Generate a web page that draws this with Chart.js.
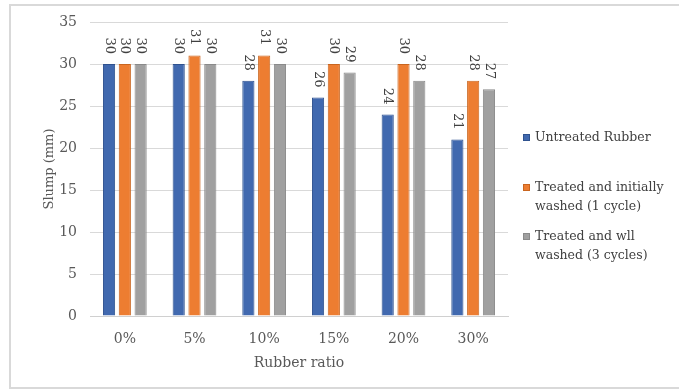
<!DOCTYPE html>
<html>
<head>
<meta charset="utf-8">
<script src="https://cdn.jsdelivr.net/npm/chart.js@4/dist/chart.umd.min.js"></script>
<style>
  html, body { margin: 0; padding: 0; background: #fff; }
  #wrap { position: relative; width: 679px; height: 390px; }
</style>
</head>
<body>
<div id="wrap"><canvas id="c" width="679" height="390"></canvas></div>
<script>
// Slump test results by rubber replacement ratio
const categories = ['0%', '5%', '10%', '15%', '20%', '30%'];
const untreated = [30, 30, 28, 26, 24, 21];
const treatedOnce = [30, 31, 31, 30, 30, 28];
const treatedThrice = [30, 30, 30, 29, 28, 27];
const seriesNames = [
  ['Untreated Rubber'],
  ['Treated and initially', 'washed (1 cycle)'],
  ['Treated and wll', 'washed (3 cycles)']
];
const yTicks = [0, 5, 10, 15, 20, 25, 30, 35];

const FONT = '"DejaVu Serif", "Liberation Serif", serif';
const fills = ['#4169AF', '#ED7D31', '#A0A0A0'];
const edges = ['#2F528F', '#C9651F', '#8A8A8A'];

// Light frame around the whole figure
const framePlugin = {
  id: 'frame',
  beforeDraw(chart) {
    const ctx = chart.ctx;
    ctx.save();
    ctx.strokeStyle = '#D9D9D9';
    ctx.lineWidth = 2;
    ctx.strokeRect(10, 5, 700, 383);
    ctx.restore();
  }
};

// Value labels rotated 90 degrees above each bar
const valueLabels = {
  id: 'valueLabels',
  afterDatasetsDraw(chart) {
    const ctx = chart.ctx;
    ctx.save();
    ctx.font = '13px ' + FONT;
    ctx.fillStyle = '#404040';
    ctx.textAlign = 'right';
    ctx.textBaseline = 'middle';
    chart.data.datasets.forEach((ds, i) => {
      chart.getDatasetMeta(i).data.forEach((bar, j) => {
        ctx.save();
        ctx.translate(bar.x, bar.y - 10);
        ctx.rotate(Math.PI / 2);
        ctx.fillText(String(ds.data[j]), 0, 0);
        ctx.restore();
      });
    });
    ctx.restore();
  }
};

// Vertical legend on the right with wrapped entries
const sideLegend = {
  id: 'sideLegend',
  afterDraw(chart) {
    const ctx = chart.ctx;
    const rows = [138, 188, 237];
    ctx.save();
    ctx.font = '12.5px ' + FONT;
    ctx.textAlign = 'left';
    ctx.textBaseline = 'middle';
    chart.data.datasets.forEach((ds, i) => {
      const y = rows[i];
      ctx.fillStyle = fills[i];
      ctx.fillRect(523, y - 4, 7, 7);
      ctx.strokeStyle = edges[i];
      ctx.lineWidth = 1;
      ctx.strokeRect(523.5, y - 3.5, 6, 6);
      ctx.fillStyle = '#404040';
      seriesNames[i].forEach((line, k) => {
        ctx.fillText(line, 535, y + k * 19);
      });
    });
    ctx.restore();
  }
};

new Chart(document.getElementById('c'), {
  type: 'bar',
  data: {
    labels: categories,
    datasets: [untreated, treatedOnce, treatedThrice].map((d, i) => ({
      label: seriesNames[i].join(' '),
      data: d,
      backgroundColor: fills[i],
      borderColor: edges[i],
      borderWidth: 1,
      categoryPercentage: 0.68,
      barPercentage: 0.77
    }))
  },
  options: {
    responsive: false,
    animation: false,
    layout: { padding: { left: 0, top: 22, right: 171, bottom: 0 } },
    plugins: {
      legend: { display: false },
      tooltip: { enabled: false }
    },
    scales: {
      x: {
        grid: { display: false, drawTicks: false },
        border: { display: true, color: '#D0D0D0', width: 1 },
        ticks: { color: '#595959', font: { family: FONT, size: 14 }, padding: 15 },
        title: {
          display: true, text: 'Rubber ratio', color: '#595959',
          font: { family: FONT, size: 14 }, padding: { top: 0, bottom: 18 }
        },
        afterFit(s) { s.height = 74; }
      },
      y: {
        min: 0, max: 35,
        afterBuildTicks(s) { s.ticks = yTicks.map(v => ({ value: v })); },
        grid: { color: '#D9D9D9', lineWidth: 1, drawTicks: false },
        border: { display: false },
        ticks: { color: '#595959', font: { family: FONT, size: 14 }, padding: 13 },
        title: {
          display: true, text: 'Slump (mm)', color: '#595959',
          font: { family: FONT, size: 13 }, padding: { top: 42, bottom: 0 }
        },
        afterFit(s) { s.width = 90; }
      }
    }
  },
  plugins: [framePlugin, valueLabels, sideLegend]
});
</script>
</body>
</html>
